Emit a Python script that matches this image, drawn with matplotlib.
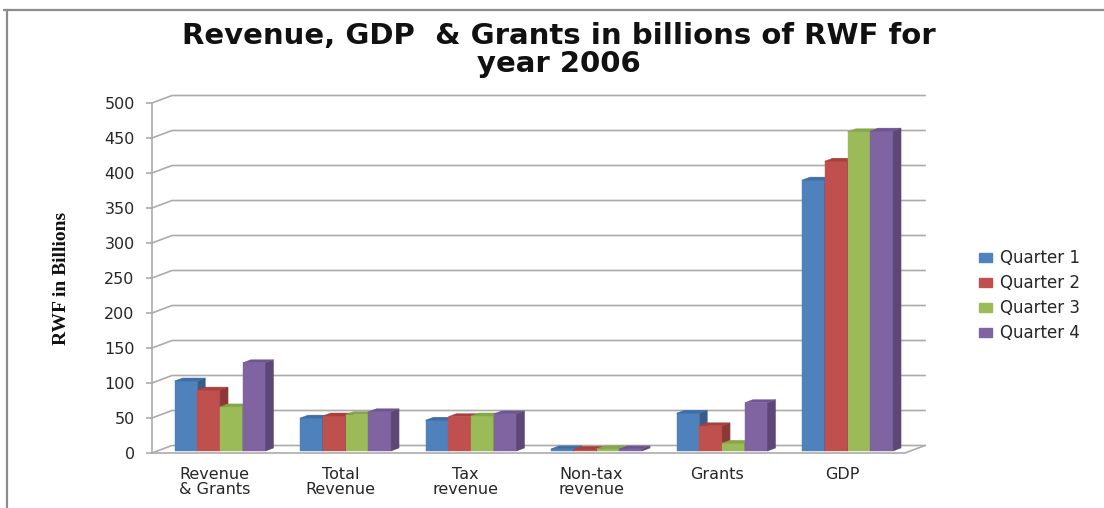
import matplotlib
matplotlib.use("Agg")
import matplotlib.pyplot as plt
from matplotlib.patches import Polygon, Patch
from matplotlib.lines import Line2D

plt.rcParams["font.family"] = ["DejaVu Sans"]

categories = ["Revenue\n& Grants", "Total\nRevenue", "Tax\nrevenue",
              "Non-tax\nrevenue", "Grants", "GDP"]
series_names = ["Quarter 1", "Quarter 2", "Quarter 3", "Quarter 4"]
quarter1 = [100, 47, 44, 3, 54, 387]
quarter2 = [87, 50, 49, 2.5, 36, 414]
quarter3 = [63, 52, 50, 3, 11, 456]
quarter4 = [126, 56, 53, 3, 69, 457]
yticks = list(range(0, 501, 50))

front_colors = ["#4F81BD", "#C0504D", "#9BBB59", "#8064A2"]
side_colors = ["#385D8A", "#8C3836", "#71893F", "#5C4776"]
top_colors = ["#3F6EA6", "#A8403D", "#86A64A", "#6E5491"]

W, H = 1104, 508
fig = plt.figure(figsize=(W / 100, H / 100), dpi=100)
fig.patch.set_facecolor("white")

# plot region (front floor edge / front vertical axis) in pixels
x_left, x_right = 152, 905
y_bottom, y_top = 453, 103
ax = fig.add_axes([x_left / W, (H - y_bottom) / H,
                   (x_right - x_left) / W, (y_bottom - y_top) / H])
ncat = len(categories)
ax.set_xlim(0, ncat)
ax.set_ylim(0, 500)
ax.patch.set_alpha(0)

# pixel -> data conversion factors
px_x = ncat / (x_right - x_left)
px_y = 500 / (y_bottom - y_top)

# depth of walls and bars (3-D look)
wall_dx, wall_dy = 20 * px_x, 7.5 * px_y
bar_dx, bar_dy = 8 * px_x, 3 * px_y
shift_x, shift_y = 5.3 * px_x, 2 * px_y

grid_color = "#ABABAB"
for v in yticks:
    ax.plot([0, wall_dx, ncat + wall_dx], [v, v + wall_dy, v + wall_dy],
            color=grid_color, lw=1.2, clip_on=False, zorder=1)
# floor outline
ax.plot([0, ncat, ncat + wall_dx], [0, 0, wall_dy],
        color=grid_color, lw=1.2, clip_on=False, zorder=1)

# clustered bars with side and top faces
values = [quarter1, quarter2, quarter3, quarter4]
bar_w = 22.75 * px_x
group_w = bar_w * len(values)
z = 3
for ci in range(ncat):
    for si, vals in enumerate(values):
        x0 = ci + 0.5 - group_w / 2 + si * bar_w + shift_x
        x1 = x0 + bar_w
        v = vals[ci]
        ax.bar(x0, v, width=bar_w, bottom=shift_y, align="edge",
               color=front_colors[si], edgecolor=front_colors[si], lw=0.3,
               zorder=z)
        top = shift_y + v
        side = Polygon([(x1, shift_y), (x1, top), (x1 + bar_dx, top + bar_dy),
                        (x1 + bar_dx, shift_y + bar_dy)], closed=True,
                       facecolor=side_colors[si], edgecolor=side_colors[si],
                       lw=0.3, zorder=z)
        cap = Polygon([(x0, top), (x1, top), (x1 + bar_dx, top + bar_dy),
                       (x0 + bar_dx, top + bar_dy)], closed=True,
                      facecolor=top_colors[si], edgecolor=top_colors[si],
                      lw=0.3, zorder=z)
        ax.add_patch(side)
        ax.add_patch(cap)
        z += 1

# axes styling
for s in ["top", "right", "bottom"]:
    ax.spines[s].set_visible(False)
ax.spines["left"].set_color(grid_color)
ax.spines["left"].set_linewidth(1.2)
ax.set_yticks(yticks)
ax.set_yticklabels([str(t) for t in yticks])
ax.tick_params(axis="y", direction="out", length=4.5, width=1.2,
               color=grid_color, pad=8, labelsize=11.5, labelcolor="#262626")
ax.set_xticks([i + 0.5 for i in range(ncat)])
ax.set_xticklabels(categories, linespacing=1.0)
ax.tick_params(axis="x", length=0, pad=10, labelsize=11.5,
               labelcolor="#262626")

# title
fig.text(559 / W, 1 - 36 / H, "Revenue, GDP  & Grants in billions of RWF for",
         ha="center", va="center", fontsize=21, fontweight="bold",
         color="#111111")
fig.text(559 / W, 1 - 64 / H, "year 2006", ha="center", va="center",
         fontsize=21, fontweight="bold", color="#111111")

# y label
fig.text(61 / W, 1 - 278 / H, "RWF in Billions", rotation=90,
         ha="center", va="center", fontsize=14, fontweight="bold",
         family="Liberation Serif", color="#111111")

# legend
handles = [Patch(facecolor=c, edgecolor=c) for c in front_colors]
fig.legend(handles, series_names, loc="center left",
           bbox_to_anchor=(964 / W, 1 - 296 / H), frameon=False,
           fontsize=12, handlelength=0.8, handleheight=0.45,
           handletextpad=0.45, labelspacing=0.42, labelcolor="#262626")

# outer frame
fig.add_artist(Line2D([7 / W, 7 / W], [0, 1 - 10 / H], transform=fig.transFigure,
                      color="#8C8C8C", lw=1.6))
fig.add_artist(Line2D([4 / W, 1], [1 - 10 / H, 1 - 10 / H],
                      transform=fig.transFigure, color="#8C8C8C", lw=1.6))

fig.savefig("out.png", dpi=100, facecolor="white")
